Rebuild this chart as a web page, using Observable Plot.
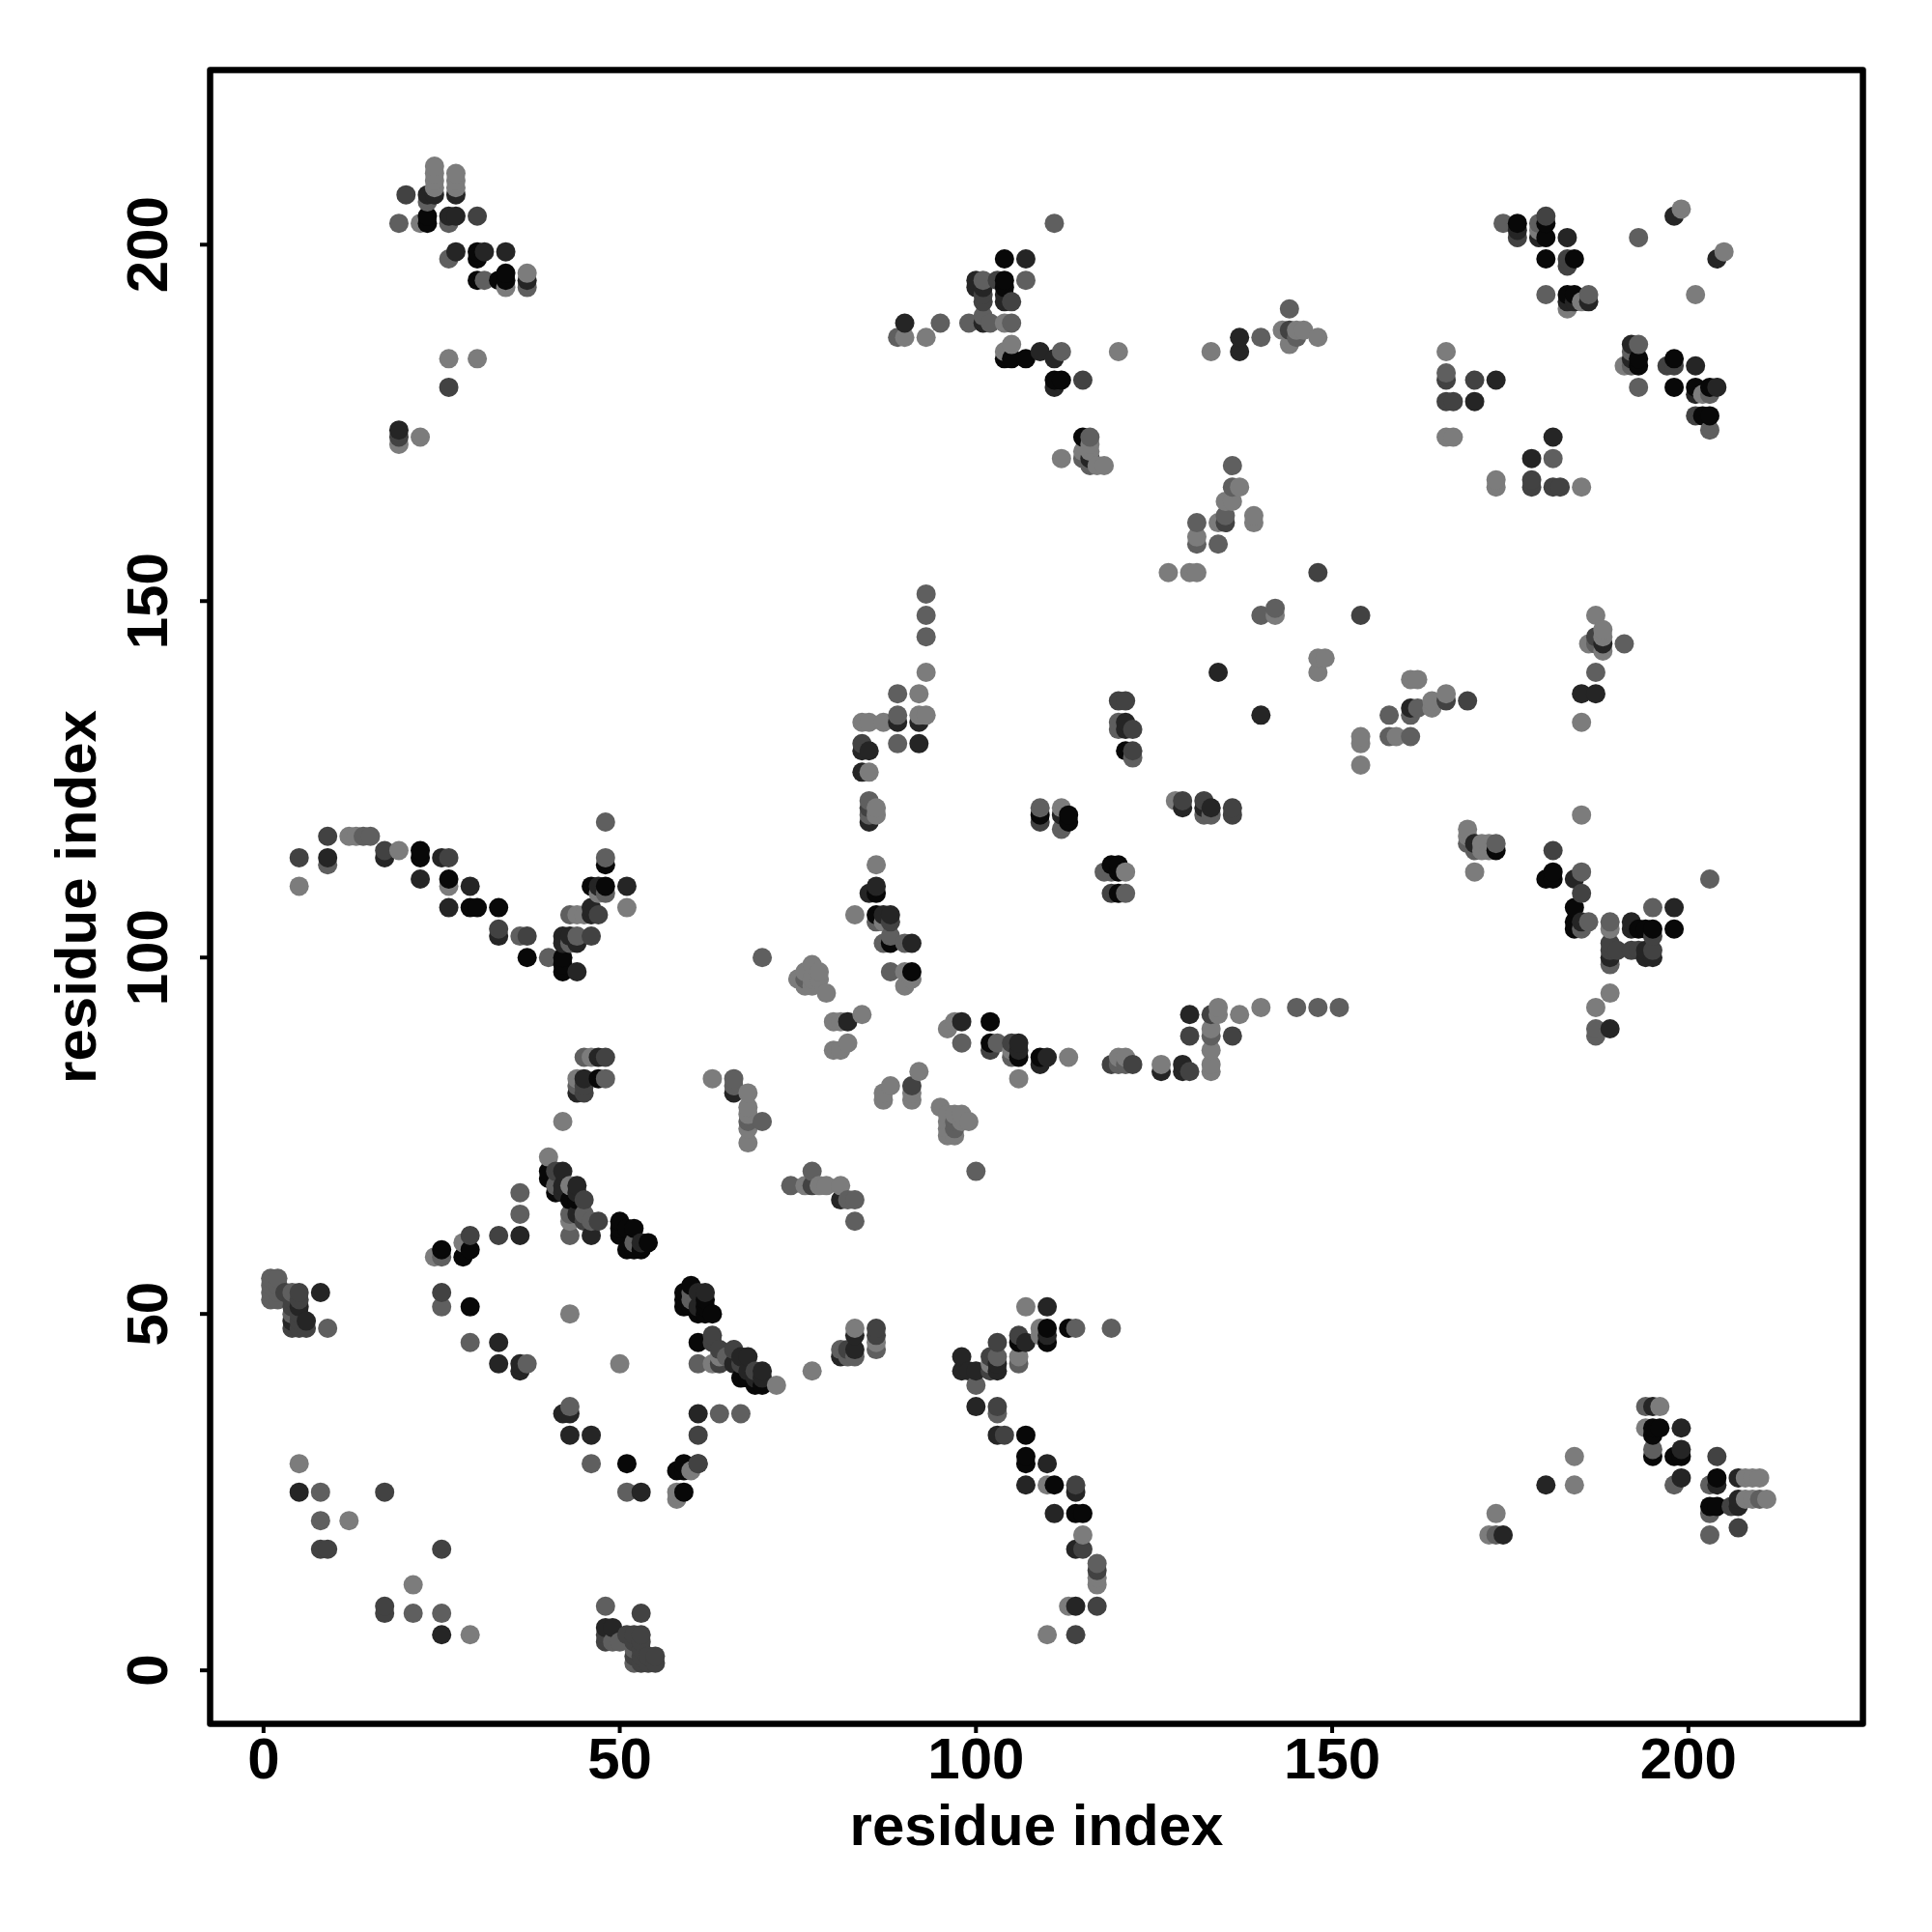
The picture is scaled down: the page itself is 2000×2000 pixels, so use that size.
<!DOCTYPE html>
<html>
<head>
<meta charset="utf-8">
<script src="https://cdn.jsdelivr.net/npm/d3@7"></script>
<script src="https://cdn.jsdelivr.net/npm/@observablehq/plot@0.6"></script>
<style>
html,body{margin:0;padding:0;background:#fff}
</style>
</head>
<body>
<div id="chart"></div>
<script>
// each contact: [residue i, residue j, shade level 0 (darkest) .. 4 (lightest)]
const topLeft = [[24,211,4],[24,210,4],[24,209,4],[24,208,4],[23,207,1],[24,207,1],[27,210,4],[27,209,4],[27,208,4],[27,207,1],[20,207,2],[19,203,3],[23,206,3],[22,203,4],[23,204,0],[23,203,0],[26,204,1],[27,204,1],[26,203,3],[30,204,2],[27,199,1],[26,198,3],[30,199,0],[31,199,1],[30,198,0],[34,199,1],[30,195,0],[31,195,3],[33,195,0],[34,196,0],[34,195,0],[34,194,4],[37,196,4],[37,195,1],[37,194,3],[26,184,4],[30,184,4],[26,180,2],[19,174,1],[19,173,2],[19,172,4],[22,173,4]];
const topMiddle = [[111,203,3],[104,198,0],[107,198,1],[107,195,3],[100,195,1],[101,195,3],[103,195,2],[104,195,0],[100,194,1],[101,194,1],[104,194,0],[101,193,2],[104,193,1],[105,192,2],[104,192,1],[101,192,2],[90,189,1],[95,189,3],[99,189,3],[101,190,3],[101,189,1],[102,189,3],[104,189,4],[105,189,3],[89,187,3],[90,187,4],[93,187,4],[104,185,4],[105,186,4],[105,184,0],[104,184,0],[107,184,0],[109,185,1],[111,184,1],[112,185,3],[120,185,4],[111,181,0],[112,181,0],[111,180,1],[115,181,2],[115,173,0],[116,173,3],[115,171,4],[116,172,4],[116,171,4],[115,170,3],[116,169,3],[117,169,4],[118,169,4],[116,170,1],[112,170,4]];
const topCentre = [[133,185,4],[137,187,1],[137,185,1],[140,187,3],[144,191,3],[143,188,4],[144,188,2],[144,186,4],[145,187,3],[145,188,4],[146,188,4],[148,187,4],[136,169,3],[136,166,3],[137,166,4],[135,164,4],[136,164,4],[135,162,3],[135,161,2],[134,161,4],[131,161,3],[139,162,4],[139,161,4],[131,159,4],[131,158,3],[134,158,3],[130,154,4],[131,154,4],[127,154,4]];
const topRight = [[199,205,4],[198,204,1],[205,199,4],[204,198,1],[193,201,3],[201,193,4],[174,203,3],[176,203,0],[176,202,1],[176,201,2],[179,203,3],[180,204,2],[180,203,0],[179,202,4],[179,201,1],[180,201,0],[183,201,1],[180,198,0],[183,198,2],[184,198,0],[183,197,2],[180,193,3],[183,193,0],[184,193,0],[183,192,1],[184,192,1],[185,192,4],[186,193,3],[186,192,1],[183,191,4],[193,186,3],[192,186,1],[192,185,3],[193,184,0],[193,183,0],[192,184,1],[192,183,3],[191,183,4],[198,184,0],[197,183,2],[198,183,2],[201,183,1],[193,180,3],[198,180,0],[201,180,0],[201,179,1],[203,180,0],[204,180,1],[202,179,4],[203,179,3],[201,176,2],[202,176,0],[203,176,0],[203,174,3],[166,185,4],[166,182,3],[166,181,2],[170,181,2],[173,181,1],[166,178,2],[167,178,2],[170,178,1],[166,173,4],[167,173,4],[181,173,1],[178,170,1],[181,170,3],[173,167,4],[173,166,4],[178,167,2],[178,166,2],[181,166,2],[182,166,2],[185,166,4]];
const midLeft = [[48,119,3],[9,117,2],[12,117,4],[13,117,4],[14,117,3],[15,117,3],[5,114,2],[9,114,1],[9,113,3],[17,115,2],[17,114,1],[19,115,4],[22,115,0],[22,114,0],[25,114,1],[26,114,2],[48,114,3],[48,113,0],[5,110,4],[22,111,1],[26,111,0],[26,110,4],[29,110,1],[46,110,0],[47,110,1],[48,110,0],[47,109,4],[48,109,3],[51,110,1],[51,107,4],[26,107,1],[29,107,0],[30,107,0],[33,107,0],[43,106,3],[44,106,4],[45,106,4],[46,107,1],[46,106,1],[47,106,2],[33,104,2],[33,103,1],[36,103,3],[37,103,2],[42,103,1],[43,103,1],[44,103,3],[46,103,2],[42,102,1],[43,102,3],[44,102,1],[37,100,0],[40,100,3],[42,100,0],[42,99,0],[42,98,0],[44,98,1],[45,86,3],[46,86,4],[47,86,1],[48,86,2],[44,83,4],[45,83,1],[47,83,0],[48,83,3],[44,82,3],[45,82,2],[44,81,1],[45,81,2],[42,77,4],[40,72,4]];
const midCentre = [[93,151,3],[93,148,3],[93,145,3],[93,140,4],[89,137,3],[92,137,4],[89,134,3],[92,134,4],[93,134,4],[89,133,1],[92,133,1],[84,133,4],[85,133,4],[87,133,4],[89,130,3],[92,130,1],[84,130,2],[84,129,1],[85,129,1],[84,126,1],[85,126,4],[85,122,3],[85,121,2],[85,120,3],[85,119,1],[86,121,4],[86,120,4],[109,121,3],[109,120,0],[109,119,2],[112,121,4],[112,120,1],[113,120,0],[113,119,0],[112,118,3],[86,113,4],[86,110,1],[85,109,1],[86,109,0],[83,106,4],[86,106,0],[87,106,1],[88,106,1],[86,105,3],[87,105,4],[88,105,2],[88,103,3],[87,102,3],[88,102,0],[90,102,3],[91,102,1],[88,98,3],[90,98,4],[91,98,0],[91,97,4],[90,96,4],[70,100,3],[77,99,4],[78,98,4],[76,98,4],[75,97,4],[76,97,3],[77,97,4],[78,97,4],[76,96,4],[77,96,4],[79,95,4],[84,92,4],[80,91,4],[81,91,4],[82,91,1],[97,91,4],[98,91,1],[102,91,0],[120,136,2],[121,136,2],[120,133,3],[121,133,1],[120,132,3],[121,132,1],[122,132,2],[121,129,0],[122,129,2],[122,128,3],[119,113,0],[120,113,0],[118,112,3],[119,112,3],[120,112,0],[121,112,4],[119,109,2],[120,109,0],[121,109,3]];
const midRight = [[148,154,2],[140,148,3],[142,149,3],[142,148,4],[154,148,2],[148,142,4],[149,142,4],[148,140,4],[134,140,1],[140,134,1],[187,148,4],[188,146,4],[188,145,4],[187,145,2],[186,144,4],[187,144,3],[188,144,1],[188,143,4],[191,144,3],[187,140,3],[185,137,1],[187,137,1],[185,133,4],[161,139,4],[162,139,4],[166,137,4],[166,136,2],[164,136,4],[169,136,2],[162,135,3],[161,135,1],[164,135,4],[161,134,3],[158,134,3],[158,131,3],[159,131,4],[161,131,3],[154,131,4],[154,130,4],[154,127,4],[128,122,4],[129,122,2],[129,121,1],[132,122,2],[132,121,1],[133,121,1],[132,120,3],[133,120,3],[136,121,2],[136,120,2],[185,120,4],[169,118,4],[169,117,4],[169,116,3],[170,116,1],[171,116,4],[172,116,4],[173,116,3],[173,115,0],[170,115,3],[171,115,4],[172,115,4],[170,112,4],[181,115,2],[181,112,0],[180,111,0],[181,111,0],[184,111,1],[185,112,3],[185,109,2],[184,107,0],[184,105,0],[185,105,1],[186,105,3],[184,104,0],[185,104,3],[189,105,3],[189,104,4],[192,105,1],[192,104,1],[193,104,0],[194,104,0],[195,104,0],[195,107,3],[195,103,2],[198,107,1],[198,104,0],[203,111,3],[189,102,2],[189,101,2],[190,101,2],[189,100,1],[192,101,2],[193,101,2],[194,101,1],[195,101,2],[194,100,1],[195,100,1],[189,99,3],[189,95,4],[187,93,4],[187,90,3],[187,89,3],[189,90,1],[130,92,1],[130,89,2],[133,92,2],[134,93,4],[134,92,4],[137,92,4],[140,93,4],[145,93,3],[148,93,3],[151,93,3]];
const lowerCross = [[80,87,4],[81,87,4],[82,88,4],[96,90,4],[98,88,3],[102,88,0],[102,87,2],[103,88,3],[105,88,2],[106,88,1],[106,87,1],[106,86,0],[105,87,4],[105,86,3],[106,83,4],[109,86,0],[109,85,1],[110,86,1],[113,86,4],[119,85,2],[120,86,4],[120,85,3],[121,86,4],[121,85,3],[122,85,2],[126,85,4],[126,84,1],[129,85,1],[129,84,1],[130,84,2],[133,87,4],[133,85,4],[133,84,4],[133,89,3],[133,90,4],[136,89,2],[63,83,4],[66,83,3],[66,82,3],[66,81,1],[68,81,4],[68,79,4],[68,78,4],[68,77,3],[70,77,3],[68,76,4],[68,74,4],[87,81,4],[87,80,4],[88,82,4],[92,84,4],[91,82,2],[91,81,4],[91,80,4],[95,79,4],[96,78,4],[97,78,4],[98,78,4],[96,77,4],[97,77,3],[98,77,4],[99,77,4],[96,76,4],[97,76,3],[96,75,4],[97,75,4],[100,70,3],[77,70,3],[74,68,3],[76,68,4],[77,68,2],[78,68,4],[79,68,4],[81,68,4],[81,66,1],[82,66,3],[83,66,3],[83,63,3]];
const lowerMiddle = [[107,51,4],[110,51,1],[109,48,4],[110,48,0],[113,48,0],[114,48,3],[119,48,3],[106,47,2],[109,47,4],[110,47,1],[106,46,0],[107,46,1],[110,46,0],[103,46,2],[98,44,1],[102,44,2],[103,44,3],[106,44,4],[106,43,3],[102,43,4],[103,43,1],[98,42,1],[99,42,1],[100,42,1],[102,42,2],[103,42,1],[100,40,3],[100,37,1],[103,37,2],[103,36,3],[103,33,1],[104,33,2],[107,33,0],[107,30,0],[107,29,0],[110,29,1],[107,26,1],[110,26,4],[111,26,0],[114,26,2],[114,25,1],[111,22,1],[114,22,0],[115,22,0],[115,19,4],[114,17,1],[115,17,2],[117,15,3],[117,14,2],[117,13,4],[117,12,4],[113,9,4],[114,9,1],[117,9,2],[110,5,4],[114,5,2],[83,48,4],[83,47,1],[86,48,2],[86,47,2],[86,46,4],[86,45,3],[81,45,3],[81,44,1],[82,45,2],[83,45,1],[83,44,3],[82,44,3],[77,42,4],[72,40,4],[70,42,1],[70,41,1],[70,40,0],[69,40,0],[67,41,0],[68,44,1],[67,44,1],[66,45,2],[63,47,2],[63,46,2],[64,45,2],[64,44,4],[64,43,2],[63,43,4],[61,43,3],[61,46,0],[61,36,1],[64,36,3],[67,36,3],[61,33,2],[61,29,2],[68,42,1],[69,42,2],[66,43,1],[67,43,2],[65,44,3],[68,41,0],[69,41,1]];
const lowerLeft = [[1,55,3],[2,55,3],[1,54,3],[1,53,3],[1,52,3],[2,54,3],[2,53,3],[2,52,3],[3,53,2],[4,53,3],[5,53,2],[4,52,2],[5,52,2],[4,51,2],[5,51,1],[4,50,3],[5,50,2],[4,49,1],[5,49,2],[6,49,1],[4,48,2],[5,48,2],[6,48,2],[8,53,1],[9,48,3],[25,53,2],[25,51,3],[29,51,0],[29,61,2],[28,60,4],[29,59,0],[28,58,0],[25,59,0],[24,58,4],[25,58,3],[33,61,2],[36,61,1],[36,64,3],[36,67,3],[29,46,3],[33,46,1],[33,43,1],[36,43,1],[37,43,3],[36,42,1],[42,36,1],[43,37,3],[43,36,1],[43,33,1],[46,33,1],[43,50,4],[50,43,4],[43,61,3],[46,61,1],[43,63,4],[43,64,3],[44,64,1],[45,63,2],[46,63,3],[47,63,2],[40,70,0],[41,70,2],[42,70,1],[40,69,0],[41,68,3],[41,67,0],[42,68,1],[43,68,4],[44,68,1],[42,67,1],[43,66,0],[44,67,1],[45,66,2],[44,66,0],[45,64,3],[50,63,0],[50,62,0],[50,61,0],[52,62,0],[51,62,0],[52,60,3],[51,59,0],[52,59,0],[53,59,0],[53,60,1],[54,60,0],[60,54,0],[59,53,0],[61,53,1],[62,53,1],[60,53,3],[60,52,3],[59,52,0],[59,51,0],[60,51,0],[62,52,0],[61,51,1],[62,51,0],[63,50,0],[61,50,0],[62,50,0]];
const bottomLeft = [[5,29,4],[5,25,1],[8,25,3],[17,25,2],[8,21,3],[12,21,4],[8,17,2],[9,17,2],[25,17,2],[21,12,4],[17,9,2],[17,8,2],[21,8,3],[25,8,3],[25,5,1],[29,5,4],[46,29,3],[51,29,0],[51,25,3],[53,25,1],[58,25,4],[59,25,0],[58,24,4],[59,29,0],[58,28,0],[59,28,0],[60,28,4],[61,29,2],[48,9,3],[53,8,2],[48,6,1],[49,6,1],[48,5,2],[48,4,2],[49,4,3],[51,5,2],[52,5,2],[53,5,2],[50,4,3],[52,4,2],[53,4,2],[52,3,3],[53,3,2],[52,2,2],[53,2,2],[55,2,2],[54,2,2],[52,1,3],[53,1,2],[54,1,2],[55,1,2]];
const bottomRight = [[194,37,3],[195,37,1],[196,37,4],[194,34,4],[195,34,0],[196,34,0],[199,34,1],[195,33,0],[195,31,3],[195,30,0],[198,30,0],[199,31,1],[199,30,0],[199,27,1],[198,26,3],[204,30,2],[204,27,0],[204,26,1],[203,26,3],[207,27,1],[208,27,4],[209,27,4],[210,27,4],[203,23,0],[204,23,0],[203,22,3],[206,23,2],[207,24,1],[207,23,1],[208,24,4],[209,24,4],[210,24,3],[211,24,4],[203,19,3],[207,20,2],[184,30,4],[184,26,4],[180,26,1],[173,22,4],[172,19,4],[173,19,3],[174,19,1]];
const tickValues = [0, 50, 100, 150, 200];
const axisTitle = "residue index";
const domain = [-7.5, 224.5];

const contacts = [...topLeft, ...topMiddle, ...topCentre, ...topRight, ...midLeft, ...midCentre, ...midRight, ...lowerCross, ...lowerMiddle, ...lowerLeft, ...bottomLeft, ...bottomRight]
  .map(([i, j, shade]) => ({i, j, shade}))
  .sort((a, b) => d3.ascending(a.i, b.i) || d3.ascending(a.j, b.j));

const font = "'Liberation Sans', Arial, Helvetica, sans-serif";
const chart = Plot.plot({
  width: 2000,
  height: 2000,
  marginLeft: 217,
  marginRight: 72,
  marginTop: 72,
  marginBottom: 216,
  style: {fontFamily: font, fontWeight: "bold", background: "#fff", color: "#000"},
  x: {domain},
  y: {domain},
  color: {type: "linear", domain: [0, 4], range: ["#080808", "#7c7c7c"]},
  marks: [
    Plot.dot(contacts, {x: "i", y: "j", r: 10, fill: "shade", stroke: null}),
    Plot.frame({stroke: "#000", strokeWidth: 6.5, strokeLinejoin: "round"}),
    Plot.axisX({ticks: tickValues, tickSize: 10, tickPadding: 4, strokeWidth: 4, fontSize: 60, label: axisTitle, labelAnchor: "center", labelArrow: "none", labelOffset: 125, tickFormat: d => String(d)}),
    Plot.axisY({ticks: tickValues, tickSize: 10, tickPadding: 35, strokeWidth: 4, fontSize: 60, tickRotate: -90, label: axisTitle, labelAnchor: "center", labelArrow: "none", labelOffset: 161, tickFormat: d => String(d)})
  ]
});
document.getElementById("chart").appendChild(chart);
</script>
</body>
</html>
